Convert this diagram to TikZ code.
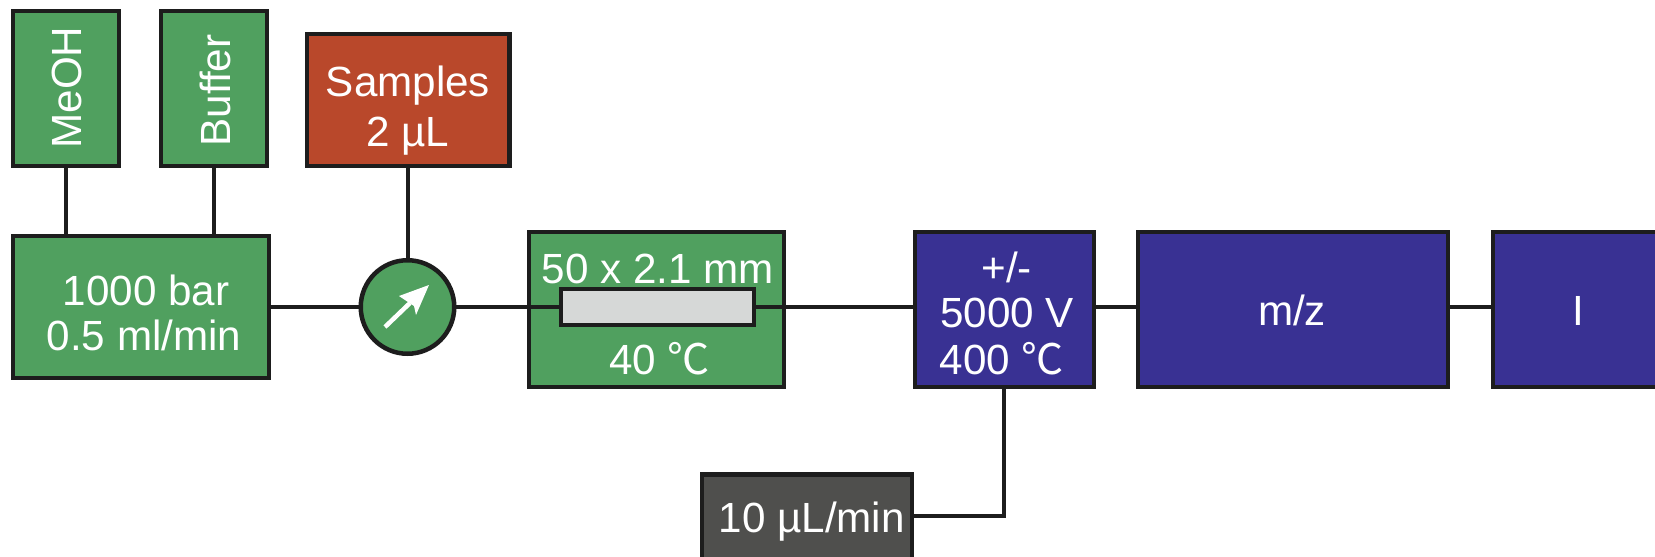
\documentclass[tikz,border=0pt]{standalone}
\usepackage{fontspec}
\setmainfont{Liberation Sans}
\newfontfamily\cjkdeg{Noto Sans CJK SC}
\definecolor{grn}{HTML}{50A05F}
\definecolor{rst}{HTML}{B9482B}
\definecolor{ind}{HTML}{393193}
\definecolor{gry}{HTML}{4F4F4D}
\definecolor{lne}{HTML}{1D1D1D}
\definecolor{col}{HTML}{D6D8D7}
\tikzset{
 x=1pt,y=-1pt,
 lbl/.style={text=white,font=\fontsize{42.2}{50}\selectfont,inner sep=0pt,anchor=base,yshift=-1.6pt},
 vlbl/.style={text=white,font=\fontsize{42.2}{50}\selectfont,inner sep=0pt,rotate=90,anchor=base},
 conn/.style={draw=lne,line width=4pt},
 bxn/.style={rectangle,inner sep=0pt,outer sep=0pt,line width=4.5pt,draw=lne}
}
\begin{document}
\begin{tikzpicture}
\useasboundingbox (0,0) rectangle (1655,557);
\clip (0,0) rectangle (1655,557);
\node[bxn,fill=grn,minimum width=106pt,minimum height=155pt] (meoh) at (66,88.5) {};
\node[bxn,fill=grn,minimum width=106pt,minimum height=155pt] (buffer) at (214,88.5) {};
\node[bxn,fill=rst,minimum width=202.5pt,minimum height=132pt] (samples) at (408,100) {};
\node[bxn,fill=grn,minimum width=256pt,minimum height=142pt] (pump) at (141,307) {};
\node[bxn,circle,fill=grn,minimum size=93.5pt] (valve) at (407.5,307) {};
\node[bxn,fill=grn,minimum width=255pt,minimum height=155pt] (oven) at (656.5,309.5) {};
\node[bxn,fill=col,minimum width=193pt,minimum height=36pt] (column) at (657.5,307) {};
\node[bxn,fill=ind,minimum width=179pt,minimum height=155pt] (source) at (1004.5,309.5) {};
\node[bxn,fill=ind,minimum width=310pt,minimum height=155pt] (mz) at (1293,309.5) {};
\node[bxn,fill=ind,minimum width=200pt,minimum height=155pt] (det) at (1593,309.5) {};
\node[bxn,fill=gry,minimum width=210pt,minimum height=100pt] (flow) at (807,524.5) {};
% connectors
\draw[conn] (meoh.south) -- (meoh.south |- pump.north);
\draw[conn] (buffer.south) -- (buffer.south |- pump.north);
\draw[conn] (samples.south -| valve.north) -- (valve.north);
\draw[conn] (pump.east |- valve.west) -- (valve.west);
\draw[conn] (valve.east) -- (column.west);
\draw[conn] (column.east) -- (column.east -| source.west);
\draw[conn] (source.east |- column.east) -- (mz.west |- column.east);
\draw[conn] (mz.east |- column.east) -- (det.west |- column.east);
\coordinate (flowend) at (1003.5,516);
\draw[conn,line join=miter] (flow.east |- flowend) -- (flowend) -- (flowend |- source.south);
% valve arrow
\coordinate (arrA) at (385,327);
\coordinate (arrB) at (429,285);
\draw[white,line width=4.5pt] (arrA) -- (410,303);
\fill[white] (arrB) -- (399,296) -- (414,306) -- (416,315) -- cycle;
% labels
\node[vlbl] at (81,87.5) {MeOH};
\node[vlbl] at (230,90.5) {Buffer};
\node[lbl] at (408,95) {Samples};
\node[lbl] at (408,144.6) {2 µL};
\node[lbl] at (146,304) {1000 bar};
\node[lbl] at (144,349) {0.5 ml/min};
\node[lbl] at (658,282) {50 x 2.1 mm};
\node[lbl] at (659.5,372.7) {40 {\cjkdeg ℃}};
\node[lbl] at (1006.7,281) {+/-};
\node[lbl] at (1007,325.7) {5000 V};
\node[lbl] at (1002,372.7) {400 {\cjkdeg ℃}};
\node[lbl] at (1292,324) {m/z};
\node[lbl] at (1578.6,324) {I};
\node[lbl] at (811.7,530.7) {10 µL/min};
\end{tikzpicture}
\end{document}
